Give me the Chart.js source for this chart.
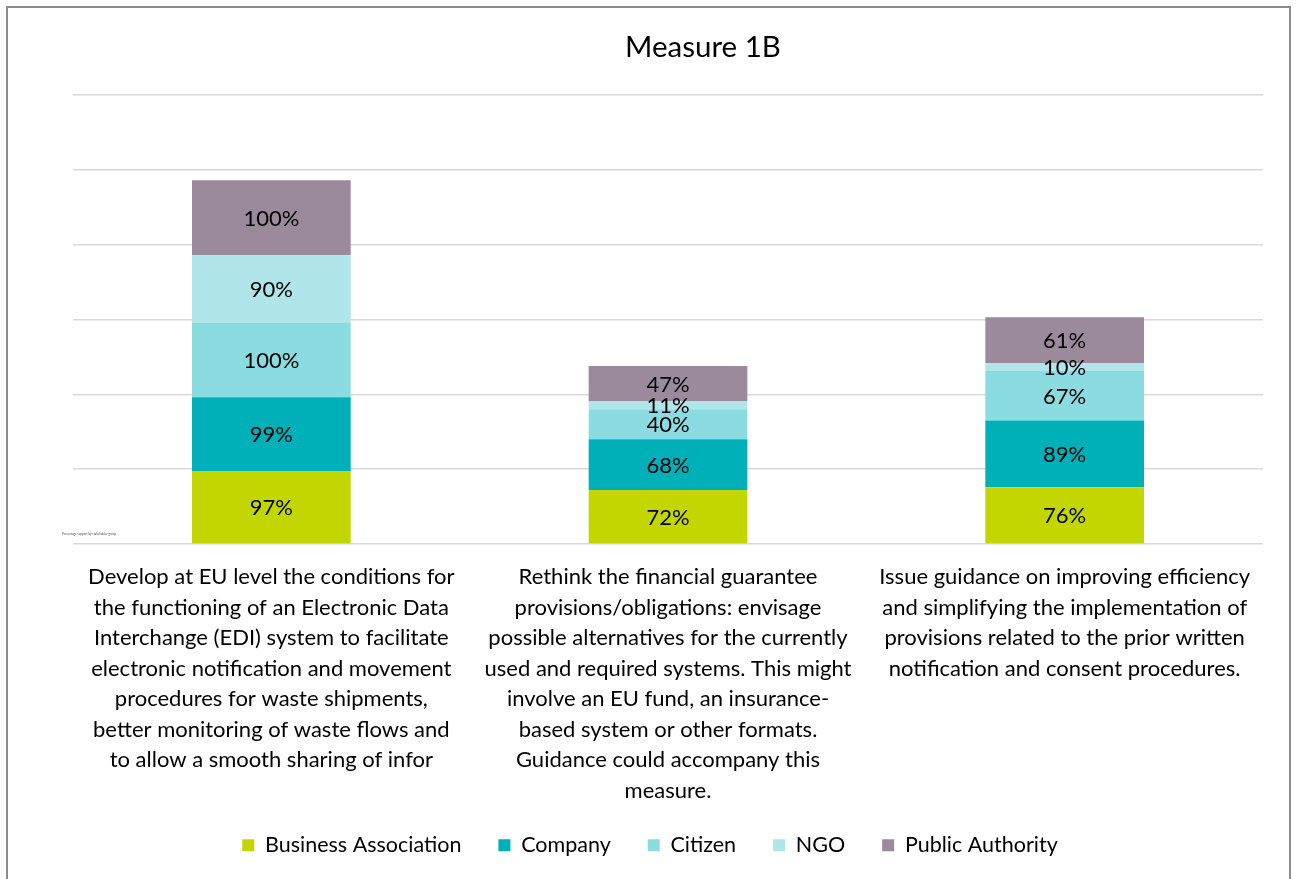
<!DOCTYPE html>
<html>
<head>
<meta charset="utf-8">
<script src="https://cdn.jsdelivr.net/npm/chart.js@4"></script>
<style>
  body { margin: 0; background: #fff; }
  #wrap { position: absolute; left: 0; top: 0; width: 1296px; height: 879px; }
  #frame { position: absolute; left: 6px; top: 6px; width: 1285px; height: 900px; border: 2px solid #8c8c8c; box-sizing: border-box; pointer-events: none; }
</style>
</head>
<body>
<div id="wrap"><canvas id="chart"></canvas></div>
<div id="frame"></div>
<script>
// category labels, already wrapped like the original
const categories = [
  ["Develop at EU level the conditions for", "the functioning of an Electronic Data", "Interchange (EDI) system to facilitate",
   "electronic notification and movement", "procedures for waste shipments,", "better monitoring of waste flows and",
   "to allow a smooth sharing of infor"],
  ["Rethink the financial guarantee", "provisions/obligations: envisage", "possible alternatives for the currently",
   "used and required systems. This might", "involve an EU fund, an insurance-", "based system or other formats.",
   "Guidance could accompany this", "measure."],
  ["Issue guidance on improving efficiency", "and simplifying the implementation of",
   "provisions related to the prior written", "notification and consent procedures."]
];

const businessAssociation = [97, 72, 76];
const company = [99, 68, 89];
const citizen = [100, 40, 67];
const ngo = [90, 11, 10];
const publicAuthority = [100, 47, 61];

const yTicksMax = 600;
const yTicksStep = 100;

const chartTitle = "Measure 1B";
const axisNote = "Percentage support by stakeholder group";

// draws the % value in the middle of each segment
const valueLabels = {
  id: 'valueLabels',
  afterDatasetsDraw(chart) {
    const ctx = chart.ctx;
    ctx.save();
    ctx.font = '22px Lato';
    ctx.fillStyle = '#000';
    ctx.textAlign = 'center';
    ctx.textBaseline = 'middle';
    chart.data.datasets.forEach((ds, i) => {
      chart.getDatasetMeta(i).data.forEach((bar, j) => {
        ctx.fillText(ds.data[j] + '%', bar.x, (bar.y + bar.base) / 2 + 1);
      });
    });
    ctx.restore();
  }
};

// title sits off-centre in the original, so draw it by hand
const titleText = {
  id: 'titleText',
  afterLayout(chart) {
    // let the long category labels run below the axis box instead of being clipped
    chart.scales.x.bottom = chart.height;
  },
  afterDraw(chart) {
    const ctx = chart.ctx;
    ctx.save();
    ctx.font = '29.5px Lato';
    ctx.fillStyle = '#000';
    ctx.textAlign = 'center';
    ctx.textBaseline = 'middle';
    ctx.fillText(chartTitle, 703, 47);
    ctx.font = '3px Lato';
    ctx.fillStyle = '#555';
    ctx.textAlign = 'left';
    ctx.fillText(axisNote, 62, chart.chartArea.bottom - 10);
    ctx.restore();
  }
};

const ctx = document.getElementById('chart').getContext('2d');
new Chart(ctx, {
  type: 'bar',
  data: {
    labels: categories,
    datasets: [
      { label: 'Business Association', data: businessAssociation, backgroundColor: '#c4d600' },
      { label: 'Company', data: company, backgroundColor: '#00b0b9' },
      { label: 'Citizen', data: citizen, backgroundColor: '#8adce0' },
      { label: 'NGO', data: ngo, backgroundColor: '#b0e6e9' },
      { label: 'Public Authority', data: publicAuthority, backgroundColor: '#9b8a9c' }
    ]
  },
  options: {
    responsive: true,
    maintainAspectRatio: false,
    animation: false,
    datasets: { bar: { categoryPercentage: 1, barPercentage: 0.4 } },
    layout: { padding: { left: 37, right: 33, top: 95, bottom: 13 } },
    scales: {
      x: {
        stacked: true,
        grid: { display: false },
        border: { display: false },
        afterFit: (scale) => { scale.height = 253.5; },
        ticks: {
          autoSkip: false,
          maxRotation: 0,
          padding: 10,
          color: '#000',
          font: { family: 'Lato', size: 22, lineHeight: '30.5px' }
        }
      },
      y: {
        stacked: true,
        min: 0,
        max: yTicksMax,
        afterFit: (scale) => { scale.width = 36; },
        ticks: { display: false, stepSize: yTicksStep },
        border: { display: false },
        grid: { color: '#d9d9d9', lineWidth: 1.5, drawTicks: false }
      }
    },
    plugins: {
      title: { display: false },
      tooltip: { enabled: false },
      legend: {
        position: 'bottom',
        labels: {
          boxWidth: 12,
          boxHeight: 12,
          padding: 37,
          color: '#000',
          font: { family: 'Lato', size: 21.5 }
        }
      }
    }
  },
  plugins: [valueLabels, titleText]
});
</script>
</body>
</html>
